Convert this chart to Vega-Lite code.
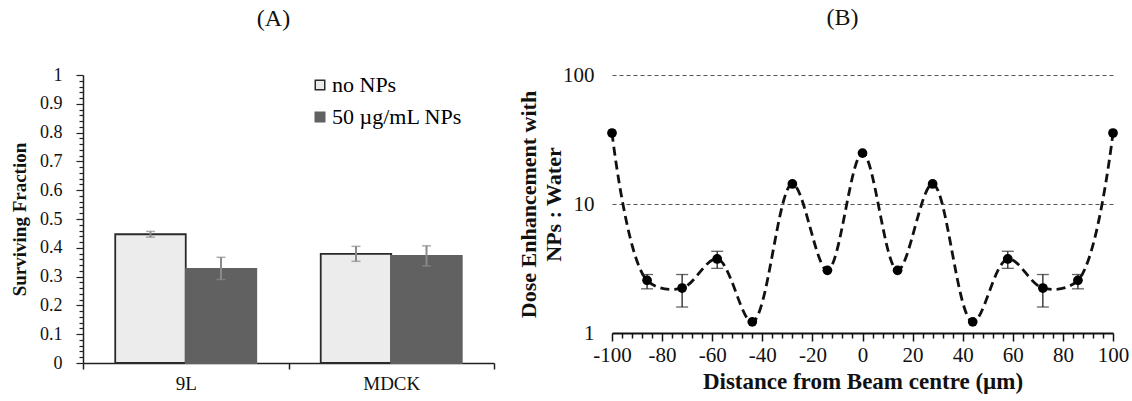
{
  "$schema": "https://vega.github.io/schema/vega-lite/v6.json",
  "background": "white",
  "padding": {"left": 10, "top": 6, "right": 5, "bottom": 5},
  "config": {
    "view": {"stroke": null},
    "font": "Liberation Serif",
    "title": {"font": "Liberation Serif", "fontWeight": "normal", "fontSize": 24, "color": "#111"},
    "axis": {"labelFont": "Liberation Serif", "titleFont": "Liberation Serif", "labelColor": "#111", "titleColor": "#111"},
    "legend": {"labelFont": "Liberation Serif"}
  },
  "spacing": 22,
  "datasets": {
    "cells": [
      {"cell": "9L", "group": "no NPs", "value": 0.447, "lo": 0.437, "hi": 0.457},
      {"cell": "9L", "group": "50 µg/mL NPs", "value": 0.327, "lo": 0.290, "hi": 0.367},
      {"cell": "MDCK", "group": "no NPs", "value": 0.379, "lo": 0.353, "hi": 0.405},
      {"cell": "MDCK", "group": "50 µg/mL NPs", "value": 0.372, "lo": 0.337, "hi": 0.407}
    ],
    "dose": [
      {"x": -100, "y": 35.5},
      {"x": -86, "y": 2.56},
      {"x": -72, "y": 2.23},
      {"x": -58, "y": 3.75},
      {"x": -44, "y": 1.22},
      {"x": -28, "y": 14.3},
      {"x": -14, "y": 3.06},
      {"x": 0, "y": 24.8},
      {"x": 14, "y": 3.06},
      {"x": 28, "y": 14.3},
      {"x": 44, "y": 1.22},
      {"x": 58, "y": 3.75},
      {"x": 72, "y": 2.23},
      {"x": 86, "y": 2.56},
      {"x": 100, "y": 35.5}
    ],
    "dose_err": [
      {"x": -86, "lo": 2.2, "hi": 2.84},
      {"x": -72, "lo": 1.59, "hi": 2.84},
      {"x": -58, "lo": 3.17, "hi": 4.3},
      {"x": 58, "lo": 3.17, "hi": 4.3},
      {"x": 72, "lo": 1.59, "hi": 2.84},
      {"x": 86, "lo": 2.2, "hi": 2.84}
    ]
  },
  "hconcat": [
    {
      "width": 411,
      "height": 288,
      "title": {"text": "(A)", "offset": 35, "dx": -15},
      "data": {"name": "cells"},
      "encoding": {
        "x": {
          "field": "cell", "type": "nominal", "sort": ["9L", "MDCK"],
          "scale": {"paddingInner": 0, "paddingOuter": 0},
          "axis": {"title": null, "tickBand": "extent", "tickSize": 6, "labelFontSize": 19, "labelPadding": 5, "labelAngle": 0, "domainColor": "#222", "domainWidth": 1.5, "tickColor": "#222", "tickWidth": 1.5}
        },
        "xOffset": {"field": "group", "type": "nominal", "sort": ["no NPs", "50 µg/mL NPs"], "scale": {"paddingInner": 0, "paddingOuter": 0.457}},
        "y": {
          "field": "value", "type": "quantitative", "scale": {"domain": [0, 1], "nice": false},
          "axis": {
            "title": "Surviving Fraction", "titleFontSize": 19, "titleFontWeight": "bold", "titlePadding": 10,
            "values": [0, 0.02, 0.04, 0.06, 0.08, 0.1, 0.12, 0.14, 0.16, 0.18, 0.2, 0.22, 0.24, 0.26, 0.28, 0.3, 0.32, 0.34, 0.36, 0.38, 0.4, 0.42, 0.44, 0.46, 0.48, 0.5, 0.52, 0.54, 0.56, 0.58, 0.6, 0.62, 0.64, 0.66, 0.68, 0.7, 0.72, 0.74, 0.76, 0.78, 0.8, 0.82, 0.84, 0.86, 0.88, 0.9, 0.92, 0.94, 0.96, 0.98, 1],
            "labelExpr": "round(datum.value*50) % 5 == 0 ? format(datum.value, '~g') : ''",
            "tickSize": {"condition": {"test": "round(datum.value*50) % 5 == 0", "value": 7}, "value": 4},
            "grid": false, "labelFontSize": 18, "labelPadding": 14, "labelOverlap": false, "labelBound": false,
            "domainColor": "#222", "domainWidth": 1.5, "tickColor": "#222", "tickWidth": 1.2
          }
        }
      },
      "layer": [
        {
          "mark": {"type": "bar", "strokeWidth": 1.8},
          "encoding": {
            "fill": {
              "field": "group", "type": "nominal", "sort": ["no NPs", "50 µg/mL NPs"],
              "scale": {"domain": ["no NPs", "50 µg/mL NPs"], "range": ["#ececec", "#616161"]},
              "legend": {"title": null, "orient": "none", "legendX": 226, "legendY": -1, "symbolType": "square", "symbolSize": 90, "labelFontSize": 22, "rowPadding": 10, "symbolStrokeWidth": 1.5, "labelOffset": 1}
            },
            "stroke": {
              "field": "group", "type": "nominal", "sort": ["no NPs", "50 µg/mL NPs"],
              "scale": {"domain": ["no NPs", "50 µg/mL NPs"], "range": ["#2a2a2a", "#616161"]},
              "legend": {"title": null, "orient": "none", "legendX": 226, "legendY": -1, "symbolType": "square", "symbolSize": 90, "labelFontSize": 22, "rowPadding": 10, "symbolStrokeWidth": 1.5, "labelOffset": 1}
            }
          }
        },
        {
          "mark": {"type": "rule", "color": "#8a8a8a", "strokeWidth": 2},
          "encoding": {
            "y": {
              "field": "lo", "type": "quantitative",
              "axis": {
                "title": "Surviving Fraction", "titleFontSize": 19, "titleFontWeight": "bold", "titlePadding": 10,
                "values": [0, 0.02, 0.04, 0.06, 0.08, 0.1, 0.12, 0.14, 0.16, 0.18, 0.2, 0.22, 0.24, 0.26, 0.28, 0.3, 0.32, 0.34, 0.36, 0.38, 0.4, 0.42, 0.44, 0.46, 0.48, 0.5, 0.52, 0.54, 0.56, 0.58, 0.6, 0.62, 0.64, 0.66, 0.68, 0.7, 0.72, 0.74, 0.76, 0.78, 0.8, 0.82, 0.84, 0.86, 0.88, 0.9, 0.92, 0.94, 0.96, 0.98, 1],
                "labelExpr": "round(datum.value*50) % 5 == 0 ? format(datum.value, '~g') : ''",
                "tickSize": {"condition": {"test": "round(datum.value*50) % 5 == 0", "value": 7}, "value": 4},
                "grid": false, "labelFontSize": 18, "labelPadding": 14, "labelOverlap": false, "labelBound": false,
                "domainColor": "#222", "domainWidth": 1.5, "tickColor": "#222", "tickWidth": 1.2
              }
            },
            "y2": {"field": "hi"}
          }
        },
        {
          "mark": {"type": "tick", "color": "#8a8a8a", "thickness": 1.5, "size": 9, "orient": "horizontal"},
          "encoding": {
            "y": {
              "field": "lo", "type": "quantitative",
              "axis": {
                "title": "Surviving Fraction", "titleFontSize": 19, "titleFontWeight": "bold", "titlePadding": 10,
                "values": [0, 0.02, 0.04, 0.06, 0.08, 0.1, 0.12, 0.14, 0.16, 0.18, 0.2, 0.22, 0.24, 0.26, 0.28, 0.3, 0.32, 0.34, 0.36, 0.38, 0.4, 0.42, 0.44, 0.46, 0.48, 0.5, 0.52, 0.54, 0.56, 0.58, 0.6, 0.62, 0.64, 0.66, 0.68, 0.7, 0.72, 0.74, 0.76, 0.78, 0.8, 0.82, 0.84, 0.86, 0.88, 0.9, 0.92, 0.94, 0.96, 0.98, 1],
                "labelExpr": "round(datum.value*50) % 5 == 0 ? format(datum.value, '~g') : ''",
                "tickSize": {"condition": {"test": "round(datum.value*50) % 5 == 0", "value": 7}, "value": 4},
                "grid": false, "labelFontSize": 18, "labelPadding": 14, "labelOverlap": false, "labelBound": false,
                "domainColor": "#222", "domainWidth": 1.5, "tickColor": "#222", "tickWidth": 1.2
              }
            }
          }
        },
        {
          "mark": {"type": "tick", "color": "#8a8a8a", "thickness": 1.5, "size": 9, "orient": "horizontal"},
          "encoding": {
            "y": {
              "field": "hi", "type": "quantitative",
              "axis": {
                "title": "Surviving Fraction", "titleFontSize": 19, "titleFontWeight": "bold", "titlePadding": 10,
                "values": [0, 0.02, 0.04, 0.06, 0.08, 0.1, 0.12, 0.14, 0.16, 0.18, 0.2, 0.22, 0.24, 0.26, 0.28, 0.3, 0.32, 0.34, 0.36, 0.38, 0.4, 0.42, 0.44, 0.46, 0.48, 0.5, 0.52, 0.54, 0.56, 0.58, 0.6, 0.62, 0.64, 0.66, 0.68, 0.7, 0.72, 0.74, 0.76, 0.78, 0.8, 0.82, 0.84, 0.86, 0.88, 0.9, 0.92, 0.94, 0.96, 0.98, 1],
                "labelExpr": "round(datum.value*50) % 5 == 0 ? format(datum.value, '~g') : ''",
                "tickSize": {"condition": {"test": "round(datum.value*50) % 5 == 0", "value": 7}, "value": 4},
                "grid": false, "labelFontSize": 18, "labelPadding": 14, "labelOverlap": false, "labelBound": false,
                "domainColor": "#222", "domainWidth": 1.5, "tickColor": "#222", "tickWidth": 1.2
              }
            }
          }
        }
      ]
    },
    {
      "width": 501,
      "height": 258,
      "title": {"text": "(B)", "offset": 34, "dx": -20},
      "encoding": {
        "x": {
          "field": "x", "type": "quantitative", "scale": {"domain": [-100, 100], "nice": false},
          "axis": {
            "title": "Distance from Beam centre (µm)", "titleFontSize": 23, "titleFontWeight": "bold", "titlePadding": 5,
            "values": [-100, -96, -92, -88, -84, -80, -76, -72, -68, -64, -60, -56, -52, -48, -44, -40, -36, -32, -28, -24, -20, -16, -12, -8, -4, 0, 4, 8, 12, 16, 20, 24, 28, 32, 36, 40, 44, 48, 52, 56, 60, 64, 68, 72, 76, 80, 84, 88, 92, 96, 100],
            "labelExpr": "datum.value % 20 == 0 ? '' + datum.value : ''",
            "tickSize": {"condition": {"test": "datum.value % 20 == 0", "value": 8}, "value": 5},
            "labelFontSize": 21, "labelPadding": 3, "labelOverlap": false, "labelFlush": false, "labelBound": false,
            "domainColor": "#111", "domainWidth": 2, "tickColor": "#111", "tickWidth": 1.5, "grid": false
          }
        }
      },
      "layer": [
        {
          "data": {"name": "dose"},
          "mark": {"type": "line", "interpolate": "catmull-rom", "strokeDash": [9, 5], "strokeWidth": 2.8, "color": "#111"},
          "encoding": {
            "y": {
              "field": "y", "type": "quantitative", "scale": {"type": "log", "domain": [1, 100], "nice": false},
              "axis": {
                "title": ["Dose Enhancement with", "NPs : Water"], "titleFontSize": 22, "titleFontWeight": "bold", "titleLineHeight": 25, "titlePadding": -3,
                "values": [1, 10, 100], "format": "~g", "grid": true, "gridDash": [4, 3], "gridColor": "#555", "gridWidth": 1,
                "domain": false, "ticks": false, "tickSize": 0, "labelPadding": 18, "labelFontSize": 21
              }
            }
          }
        },
        {
          "data": {"name": "dose_err"},
          "mark": {"type": "rule", "color": "#222", "strokeWidth": 1.3},
          "encoding": {"y": {"field": "lo", "type": "quantitative"}, "y2": {"field": "hi"}}
        },
        {
          "data": {"name": "dose_err"},
          "mark": {"type": "tick", "color": "#222", "thickness": 1.3, "size": 12, "orient": "horizontal"},
          "encoding": {"y": {"field": "lo", "type": "quantitative"}}
        },
        {
          "data": {"name": "dose_err"},
          "mark": {"type": "tick", "color": "#222", "thickness": 1.3, "size": 12, "orient": "horizontal"},
          "encoding": {"y": {"field": "hi", "type": "quantitative"}}
        },
        {
          "data": {"name": "dose"},
          "mark": {"type": "point", "filled": true, "color": "#000", "size": 95, "opacity": 1},
          "encoding": {"y": {"field": "y", "type": "quantitative"}}
        }
      ]
    }
  ]
}
